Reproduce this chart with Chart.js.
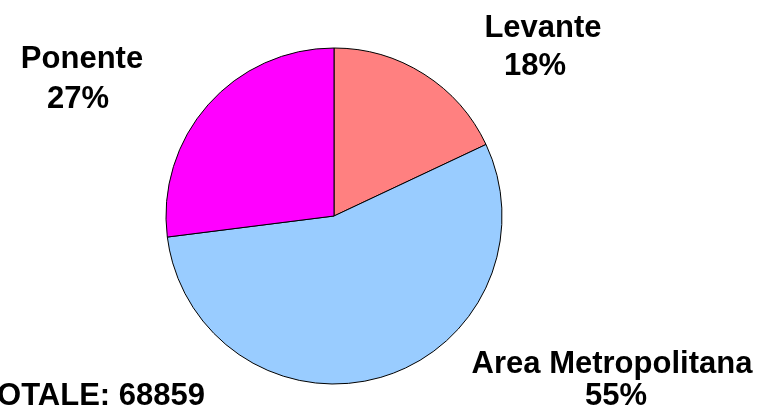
<!DOCTYPE html>
<html>
<head>
<meta charset="utf-8">
<script src="https://cdn.jsdelivr.net/npm/chart.js@4.4.1/dist/chart.umd.min.js"></script>
<style>
  html, body { margin: 0; padding: 0; background: #fff; }
  #wrap { width: 771px; height: 416px; }
</style>
</head>
<body>
<div id="wrap"><canvas id="pieChart" width="771" height="416"></canvas></div>
<script>
// -------------------- DATA --------------------
const zones = ["Levante", "Area Metropolitana", "Ponente"];
const shares = [18, 55, 27];
const total = 68859;
const colors = ["#FF8080", "#99CCFF", "#FF00FF"];

// where each label sits (text centre x, baselines of the two lines)
const labelPos = [
  { x: 543, y1: 37, x2: 535, y2: 75 },
  { x: 612, y1: 373, x2: 616, y2: 405 },
  { x: 82, y1: 68, x2: 78, y2: 108 }
];

const FONT = "bold 31px 'Liberation Sans', Arial, sans-serif";

// -------------------- LABELS PLUGIN --------------------
const labelPlugin = {
  id: "sliceLabels",
  afterDraw(chart) {
    const c = chart.ctx;
    c.save();
    c.font = FONT;
    c.fillStyle = "#000";
    c.textAlign = "center";
    c.textBaseline = "alphabetic";
    zones.forEach((name, i) => {
      const p = labelPos[i];
      c.fillText(name, p.x, p.y1);
      c.fillText(shares[i] + "%", p.x2, p.y2);
    });
    c.textAlign = "right";
    c.fillText("TOTALE: " + total, 205, 405);
    c.restore();
  }
};

// -------------------- CHART --------------------
const ctx = document.getElementById("pieChart").getContext("2d");
new Chart(ctx, {
  type: "pie",
  data: {
    labels: zones,
    datasets: [{
      data: shares,
      backgroundColor: colors,
      borderColor: "#000",
      borderWidth: 1
    }]
  },
  options: {
    responsive: false,
    animation: false,
    radius: 168,
    layout: { padding: { left: 0, right: 103, top: 16, bottom: 0 } },
    plugins: {
      legend: { display: false },
      tooltip: { enabled: false }
    }
  },
  plugins: [labelPlugin]
});
</script>
</body>
</html>
